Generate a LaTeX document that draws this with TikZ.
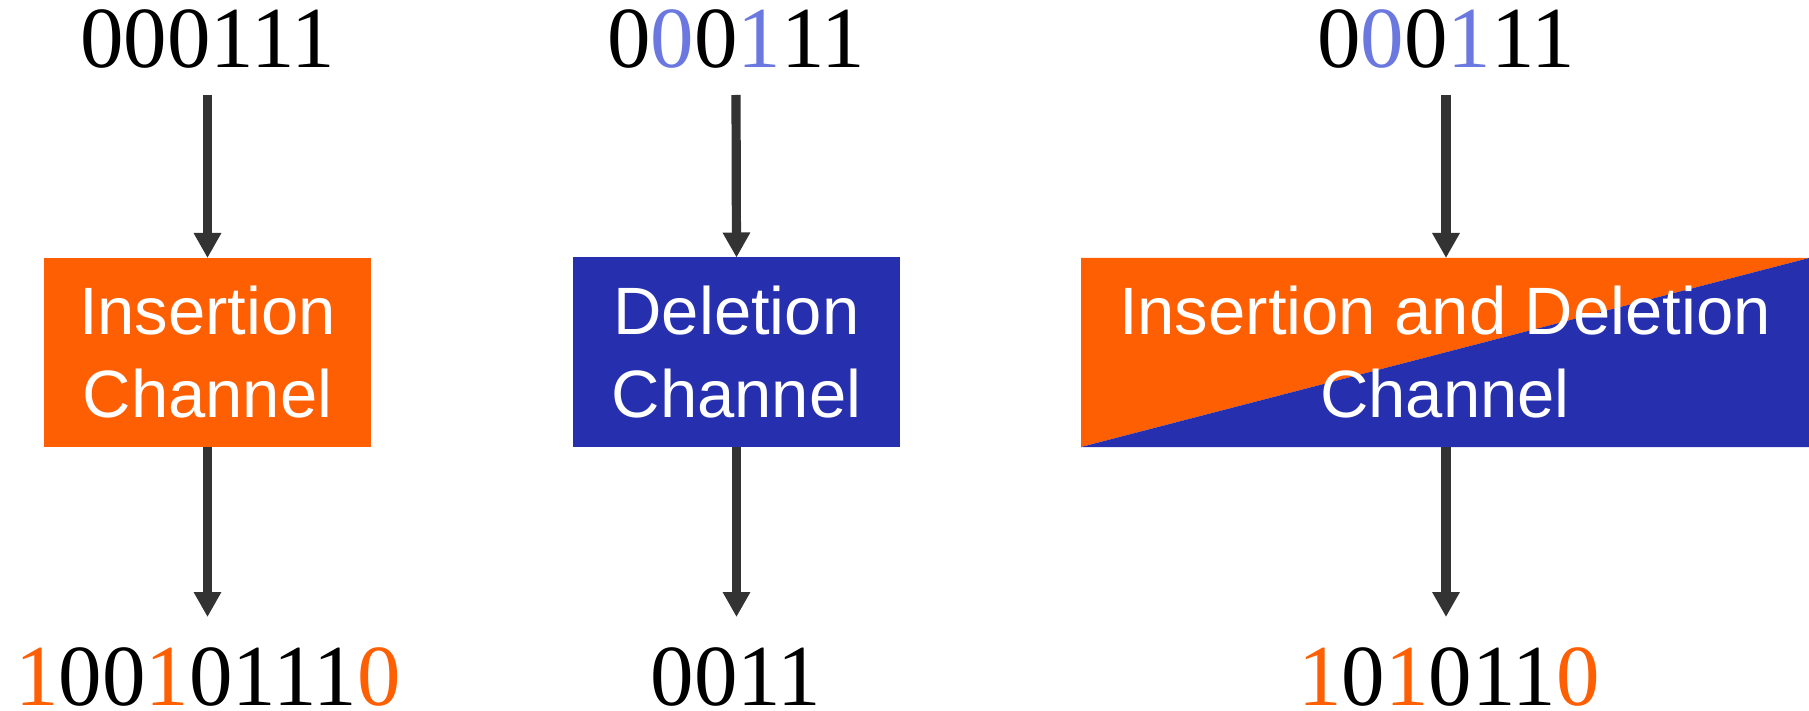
\documentclass[tikz,border=0pt]{standalone}
\usepackage{fontspec}
\setmainfont{Liberation Serif}
\setsansfont{Liberation Sans}
\usetikzlibrary{arrows.meta}
\definecolor{ins}{HTML}{FF5F03}
\definecolor{del}{HTML}{2630AE}
\definecolor{lb}{HTML}{6B78E0}
\definecolor{arr}{HTML}{333333}
\newcommand{\oc}[1]{\textcolor{ins}{#1}}
\newcommand{\bc}[1]{\textcolor{lb}{#1}}
\tikzset{
  x=0.5pt, y=-0.5pt,
  digitsin/.style={font=\fontsize{43.5}{48}\selectfont, inner sep=0pt, outer sep=0pt,
    text height=44pt, text depth=13.5pt, anchor=base},
  digitsout/.style={font=\fontsize{43.5}{48}\selectfont, inner sep=0pt, outer sep=0pt,
    text height=44pt, text depth=0pt, anchor=base},
  chbox/.style={font=\sffamily\fontsize{33.5}{41.5}\selectfont, text=white, align=center,
    inner sep=0pt, outer sep=0pt, minimum height=94.5pt},
  flow/.style={draw=arr, line width=4.6pt, -{Triangle[width=13pt,length=12.5pt]}},
}
\begin{document}
\begin{tikzpicture}
\useasboundingbox (0,0) rectangle (1809,711);
% boxes
\node[chbox, fill=ins, minimum width=163.5pt] (b1) at (207.5,352.5) {Insertion\\Channel};
\node[chbox, fill=del, minimum width=163.5pt] (b2) at (736.5,352) {Deletion\\Channel};
\node[chbox, minimum width=364pt,
  path picture={
    \fill[ins] (path picture bounding box.north west) -- (path picture bounding box.north east) -- (path picture bounding box.south west) -- cycle;
    \fill[del] (path picture bounding box.north east) -- (path picture bounding box.south east) -- (path picture bounding box.south west) -- cycle;
  }] (b3) at (1445,352.5) {Insertion and Deletion\\Channel};
% inputs
\node[digitsin] (i1) at (207.5,68) {000111};
\node[digitsin] (i2) at (736,68) {0\bc{0}0\bc{1}11};
\node[digitsin] (i3) at (1446,68) {0\bc{0}0\bc{1}11};
% outputs
\node[digitsout] (o1) at (208,705) {\oc{1}00\oc{1}0111\oc{0}};
\node[digitsout] (o2) at (736,705) {0011};
\node[digitsout] (o3) at (1449,705) {\oc{1}0\oc{1}011\oc{0}};
% arrows
\draw[flow] (i1.south) -- (b1.north);
\draw[flow] (b1.south) -- (b1.south |- o1.north);
\draw[flow] (i2.south) -- (b2.north);
\draw[flow] (b2.south) -- (b2.south |- o2.north);
\draw[flow] (i3.south) -- (i3.south |- b3.north);
\draw[flow] (i3.south |- b3.south) -- (i3.south |- o3.north);
\end{tikzpicture}
\end{document}
